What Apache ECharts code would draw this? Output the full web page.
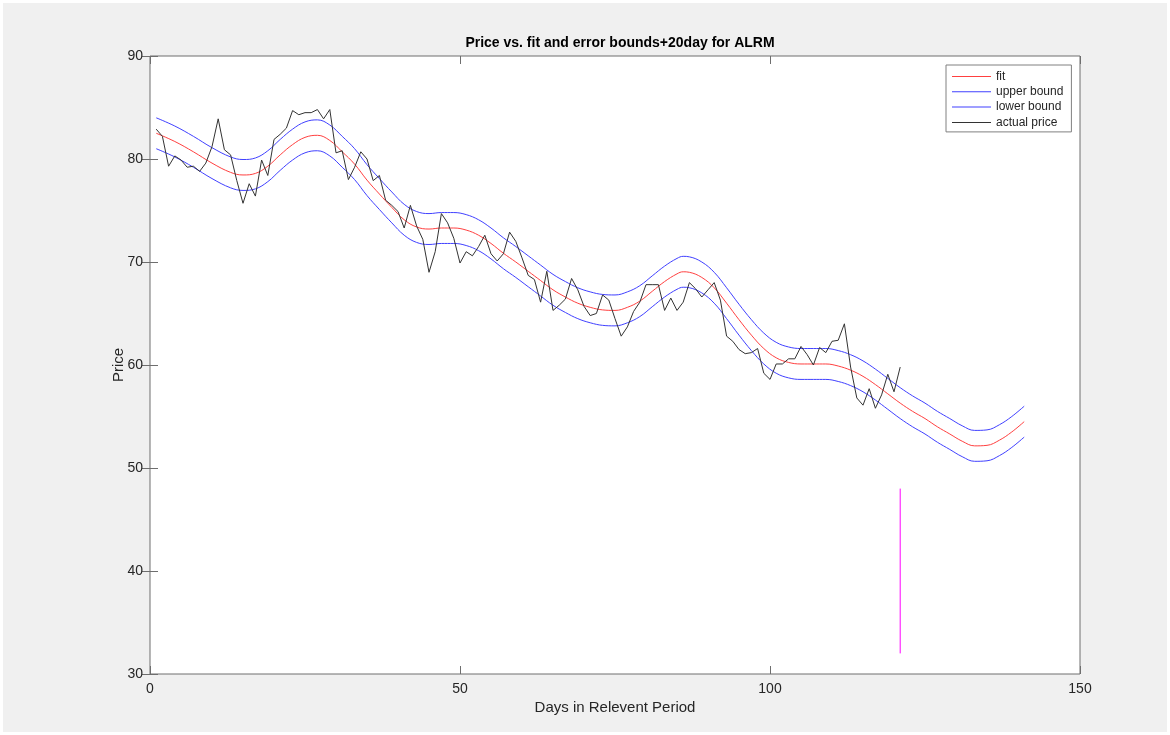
<!DOCTYPE html>
<html>
<head>
<meta charset="utf-8">
<script src="https://cdn.jsdelivr.net/npm/echarts@6/dist/echarts.min.js"></script>
<style>
  html, body { margin: 0; padding: 0; background: #fff; width: 1170px; height: 735px; overflow: hidden; }
  #frame { position: absolute; left: 3px; top: 3px; width: 1164px; height: 729px; background: #f0f0f0; }
  #chart { position: absolute; left: 0; top: 0; width: 1170px; height: 735px; }
</style>
</head>
<body>
<div id="frame"></div>
<div id="chart"></div>
<script>
// Chart text
const titleText = 'Price vs. fit and error bounds+20day for ALRM';
const xName = 'Days in Relevent Period';
const yName = 'Price';
const seriesNames = ['fit', 'upper bound', 'lower bound', 'actual price'];
const seriesColors = ['#ff4040', '#4040ff', '#4040ff', '#333333'];

// Axis ranges / ticks
const xMin = 0, xMax = 150, xStep = 50;
const yMin = 30, yMax = 90, yStep = 10;

// Fitted curve, sampled at these days
const fitDays = [1, 4, 7, 10, 13, 15, 17, 19, 21, 23, 25, 27, 29, 31, 33, 35, 37, 39, 41, 43,
  45, 47, 49, 51, 53, 55, 57, 59, 61, 63, 65, 67, 69, 71, 73, 75, 77, 79, 81, 83,
  85, 86, 87, 89, 91, 93, 95, 97, 99, 101, 103, 105, 107, 109, 111, 113, 115, 117, 119, 121,
  123, 125, 127, 129, 131, 133, 135, 137, 139, 141];
const fitValues = [82.5, 81.7, 80.7, 79.6, 78.7, 78.45, 78.6, 79.3, 80.4, 81.4, 82.1, 82.3, 81.8, 80.7, 79.5, 77.95, 76.6, 75.3, 74.1, 73.4,
  73.2, 73.3, 73.3, 73.1, 72.6, 71.8, 70.85, 70.0, 69.1, 68.2, 67.3, 66.6, 66.0, 65.6, 65.35, 65.3, 65.6, 66.2, 67.15, 68.1,
  68.85, 69.05, 69.0, 68.5, 67.5, 66.0, 64.4, 62.9, 61.6, 60.7, 60.25, 60.1, 60.1, 60.1, 59.9, 59.5, 58.9, 58.1, 57.2, 56.3,
  55.5, 54.8, 54.0, 53.3, 52.6, 52.15, 52.2, 52.7, 53.5, 54.5];
const upperValues = [84.0, 83.2, 82.2, 81.1, 80.2, 79.95, 80.1, 80.8, 81.9, 82.9, 83.6, 83.8, 83.3, 82.2, 81.0, 79.45, 78.1, 76.8, 75.6, 74.9,
  74.7, 74.8, 74.8, 74.6, 74.1, 73.3, 72.35, 71.5, 70.6, 69.7, 68.8, 68.1, 67.5, 67.1, 66.85, 66.8, 67.1, 67.7, 68.65, 69.6,
  70.35, 70.55, 70.5, 70.0, 69.0, 67.5, 65.9, 64.4, 63.1, 62.2, 61.75, 61.6, 61.6, 61.6, 61.4, 61.0, 60.4, 59.6, 58.7, 57.8,
  57.0, 56.3, 55.5, 54.8, 54.1, 53.65, 53.7, 54.2, 55.0, 56.0];
const lowerValues = [81.0, 80.2, 79.2, 78.1, 77.2, 76.95, 77.1, 77.8, 78.9, 79.9, 80.6, 80.8, 80.3, 79.2, 78.0, 76.45, 75.1, 73.8, 72.6, 71.9,
  71.7, 71.8, 71.8, 71.6, 71.1, 70.3, 69.35, 68.5, 67.6, 66.7, 65.8, 65.1, 64.5, 64.1, 63.85, 63.8, 64.1, 64.7, 65.65, 66.6,
  67.35, 67.55, 67.5, 67.0, 66.0, 64.5, 62.9, 61.4, 60.1, 59.2, 58.75, 58.6, 58.6, 58.6, 58.4, 58.0, 57.4, 56.6, 55.7, 54.8,
  54.0, 53.3, 52.5, 51.8, 51.1, 50.65, 50.7, 51.2, 52.0, 53.0];

// Daily closing price, days 1..121
const priceValues = [82.9, 82.2, 79.3, 80.3, 79.9, 79.2, 79.3, 78.8, 79.6, 81.2,
  83.9, 80.9, 80.4, 77.9, 75.7, 77.6, 76.4, 79.9, 78.4, 81.9,
  82.4, 83.0, 84.7, 84.3, 84.5, 84.5, 84.8, 83.9, 84.8, 80.6,
  80.8, 78.0, 79.2, 80.7, 80.0, 77.9, 78.4, 76.0, 75.5, 74.9,
  73.3, 75.5, 73.5, 72.2, 69.0, 71.0, 74.7, 73.8, 72.3, 69.9,
  71.0, 70.6, 71.5, 72.6, 70.8, 70.1, 70.8, 72.9, 72.0, 70.4,
  68.7, 68.3, 66.1, 69.1, 65.3, 65.8, 66.4, 68.4, 67.3, 65.7,
  64.8, 65.0, 66.8, 66.3, 64.5, 62.8, 63.7, 65.2, 66.1, 67.8,
  67.8, 67.8, 65.3, 66.5, 65.3, 66.1, 68.0, 67.4, 66.6, 67.3,
  68.0, 66.3, 62.8, 62.3, 61.5, 61.1, 61.2, 61.6, 59.2, 58.6,
  60.1, 60.1, 60.6, 60.6, 61.8, 61.0, 60.0, 61.7, 61.2, 62.3,
  62.4, 64.0, 59.8, 56.8, 56.1, 57.7, 55.8, 57.1, 59.1, 57.4,
  59.8];

// +20 day marker
const markerDay = 121;
const markerRange = [32, 48];

const FONT = '"Liberation Sans", Helvetica, Arial, sans-serif';
const TEXT = '#262626';
const AXIS = '#6e6e6e';

const pairs = (xs, ys) => xs.map((x, i) => [x, ys[i]]);
const priceData = priceValues.map((v, i) => [i + 1, v]);
const markerData = markerRange.map(v => [markerDay, v]);

const baseX = {
  type: 'value', min: xMin, max: xMax, interval: xStep,
  splitLine: { show: false },
  axisLine: { show: false },
  axisTick: { show: true, inside: true, length: 8, lineStyle: { color: AXIS, width: 1 } }
};
const baseY = {
  type: 'value', min: yMin, max: yMax, interval: yStep,
  splitLine: { show: false },
  axisLine: { show: false },
  axisTick: { show: true, inside: true, length: 8, lineStyle: { color: AXIS, width: 1 } }
};

const lineSeries = (name, data, color, z, smooth) => ({
  name, type: 'line', data, smooth, showSymbol: false, symbol: 'none', z,
  color, itemStyle: { color },
  lineStyle: { color, width: 1 },
  emphasis: { disabled: true }
});

const chart = echarts.init(document.getElementById('chart'), null, { renderer: 'canvas' });
chart.setOption({
  animation: false,
  backgroundColor: 'transparent',
  title: {
    text: titleText,
    left: 615, top: 31, textAlign: 'center',
    textStyle: { fontFamily: FONT, fontSize: 14, fontWeight: 'bold', color: '#000' }
  },
  legend: {
    orient: 'vertical', left: 946, top: 65,
    padding: [4, 8, 2, 6],
    itemWidth: 39, itemHeight: 1, itemGap: 0.3,
    icon: 'rect',
    backgroundColor: '#fff', borderColor: '#808080', borderWidth: 1, borderRadius: 0,
    textStyle: { fontFamily: FONT, fontSize: 12, color: TEXT, lineHeight: 15 },
    data: seriesNames.map((name, i) => ({
      name,
      icon: 'rect',
      itemStyle: { color: seriesColors[i], borderWidth: 0 },
      lineStyle: { color: seriesColors[i] }
    }))
  },
  grid: {
    left: 150, right: 90, top: 56, bottom: 61,
    show: true, backgroundColor: '#fff', borderColor: AXIS, borderWidth: 1
  },
  xAxis: [
    Object.assign({}, baseX, {
      position: 'bottom',
      name: xName, nameLocation: 'middle', nameGap: 26, nameMoveOverlap: false,
      nameTextStyle: { fontFamily: FONT, fontSize: 15, color: TEXT },
      axisLabel: { show: true, margin: 8, fontFamily: FONT, fontSize: 14, color: TEXT, showMinLabel: true, showMaxLabel: true }
    }),
    Object.assign({}, baseX, { position: 'top', axisLabel: { show: false } })
  ],
  yAxis: [
    Object.assign({}, baseY, {
      position: 'left',
      name: yName, nameLocation: 'middle', nameGap: 24, nameRotate: 90, nameMoveOverlap: false,
      nameTextStyle: { fontFamily: FONT, fontSize: 15, color: TEXT },
      axisLabel: { show: true, margin: 7, fontFamily: FONT, fontSize: 14, color: TEXT, showMinLabel: true, showMaxLabel: true }
    }),
    Object.assign({}, baseY, { position: 'right', axisLabel: { show: false } })
  ],
  series: [
    lineSeries(seriesNames[0], pairs(fitDays, fitValues), seriesColors[0], 2, 0.4),
    lineSeries(seriesNames[1], pairs(fitDays, upperValues), seriesColors[1], 2, 0.4),
    lineSeries(seriesNames[2], pairs(fitDays, lowerValues), seriesColors[2], 2, 0.4),
    lineSeries(seriesNames[3], priceData, seriesColors[3], 3, false),
    lineSeries('marker', markerData, '#ff00ff', 3, false)
  ]
});
</script>
</body>
</html>
